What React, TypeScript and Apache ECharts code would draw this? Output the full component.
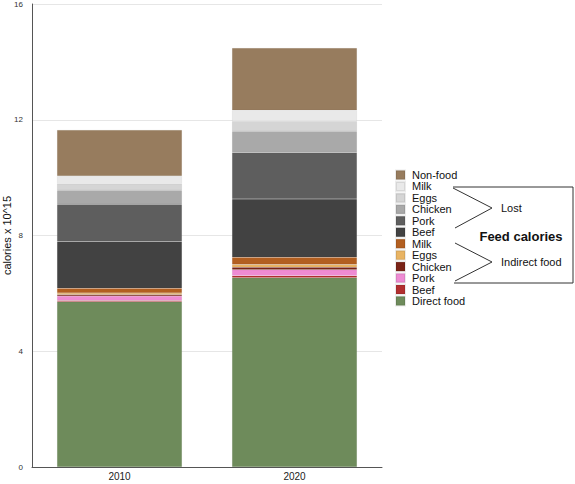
import React, { useEffect, useRef } from 'react'
import * as echarts from 'echarts'

const years = ['2010', '2020']

// stacked from bottom to top
const directFood = [5.71, 6.54]
const beefIndirect = [0.04, 0.07]
const porkIndirect = [0.16, 0.21]
const chickenIndirect = [0.05, 0.08]
const eggsIndirect = [0.05, 0.1]
const milkIndirect = [0.17, 0.25]
const beefLost = [1.61, 2.01]
const porkLost = [1.29, 1.61]
const chickenLost = [0.48, 0.73]
const eggsLost = [0.23, 0.35]
const milkLost = [0.27, 0.38]
const nonFood = [1.59, 2.15]

const yTicks = [0, 4, 8, 12, 16]

const FONT = '"Liberation Sans", Arial, Helvetica, sans-serif'

const seriesDefs = [
  { id: 'direct', label: 'Direct food', color: '#6e8b5b', data: directFood },
  { id: 'beefInd', label: 'Beef', color: '#b22f2f', data: beefIndirect },
  { id: 'porkInd', label: 'Pork', color: '#ee8bd3', data: porkIndirect },
  { id: 'chickenInd', label: 'Chicken', color: '#7a2317', data: chickenIndirect },
  { id: 'eggsInd', label: 'Eggs', color: '#e9b463', data: eggsIndirect },
  { id: 'milkInd', label: 'Milk', color: '#b25f20', data: milkIndirect },
  { id: 'beefLost', label: 'Beef', color: '#424242', data: beefLost },
  { id: 'porkLost', label: 'Pork', color: '#5e5e5e', data: porkLost },
  { id: 'chickenLost', label: 'Chicken', color: '#a9a9a9', data: chickenLost },
  { id: 'eggsLost', label: 'Eggs', color: '#d5d5d5', data: eggsLost },
  { id: 'milkLost', label: 'Milk', color: '#e9e9e9', data: milkLost },
  { id: 'nonFood', label: 'Non-food', color: '#977c5e', data: nonFood },
]

const labelOf: Record<string, string> = {}
seriesDefs.forEach((s) => {
  labelOf[s.id] = s.label
})

const App = () => {
  const chartRef = useRef<HTMLDivElement>(null)

  useEffect(() => {
    if (!chartRef.current) return
    const chart = echarts.init(chartRef.current, null, { renderer: 'svg' })

    const lineStyle = { stroke: '#333', lineWidth: 1, fill: null }

    const option = {
      animation: false,
      textStyle: { fontFamily: FONT },
      grid: { left: 32, top: 4, right: 193, bottom: 17, containLabel: false, outerBoundsMode: 'none' },
      legend: {
        orient: 'vertical',
        left: 395,
        top: 169.5,
        padding: 0,
        itemWidth: 9,
        itemHeight: 9,
        itemGap: 0.45,
        icon: 'rect',
        selectedMode: false,
        data: seriesDefs.map((s) => s.id).reverse(),
        formatter: (name: string) => labelOf[name],
        textStyle: { fontSize: 11, color: '#111', fontFamily: FONT, padding: [0, 0, 0, 2] },
      },
      xAxis: {
        type: 'category',
        data: years,
        axisLine: { lineStyle: { color: '#555', width: 1 } },
        axisTick: { show: false },
        axisLabel: { fontSize: 10, color: '#222', margin: 4, fontFamily: FONT },
      },
      yAxis: {
        type: 'value',
        min: yTicks[0],
        max: yTicks[yTicks.length - 1],
        interval: 4,
        name: 'calories x 10^15',
        nameLocation: 'middle',
        nameGap: 20,
        nameMoveOverlap: false,
        nameTextStyle: { fontSize: 11, color: '#111', fontFamily: FONT },
        axisLine: { show: true, lineStyle: { color: '#555', width: 1 } },
        axisTick: { show: false },
        axisLabel: { fontSize: 8, color: '#333', margin: 9, fontFamily: FONT, showMaxLabel: true, showMinLabel: true },
        splitLine: { lineStyle: { color: '#e6e6e6', width: 1 } },
      },
      series: seriesDefs.map((s) => ({
        name: s.id,
        type: 'bar',
        stack: 'total',
        barWidth: 125,
        data: s.data,
        itemStyle: { color: s.color, borderColor: 'rgba(0,0,0,0.08)', borderWidth: 0.5 },
        emphasis: { disabled: true },
      })),
      graphic: [
        {
          type: 'polyline',
          shape: { points: [[453, 187], [573, 187], [573, 283], [454, 283]] },
          style: lineStyle,
        },
        {
          type: 'polyline',
          shape: { points: [[453, 188], [492, 208], [455, 228]] },
          style: lineStyle,
        },
        {
          type: 'polyline',
          shape: { points: [[455, 243], [492, 262], [455, 281]] },
          style: lineStyle,
        },
        {
          type: 'text',
          x: 501,
          y: 208,
          style: { text: 'Lost', fontSize: 11, fill: '#111', fontFamily: FONT, verticalAlign: 'middle' },
        },
        {
          type: 'text',
          x: 521,
          y: 236,
          style: {
            text: 'Feed calories',
            fontSize: 13,
            fontWeight: 'bold',
            fill: '#111',
            fontFamily: FONT,
            align: 'center',
            verticalAlign: 'middle',
          },
        },
        {
          type: 'text',
          x: 501,
          y: 262,
          style: { text: 'Indirect food', fontSize: 11, fill: '#111', fontFamily: FONT, verticalAlign: 'middle' },
        },
      ],
    }

    chart.setOption(option as any)

    return () => {
      chart.dispose()
    }
  }, [])

  return (
    <div style={{ position: 'absolute', left: 0, top: 0, width: 575, height: 484 }}>
      <div ref={chartRef} style={{ width: '100%', height: '100%' }} />
    </div>
  )
}

export default App
